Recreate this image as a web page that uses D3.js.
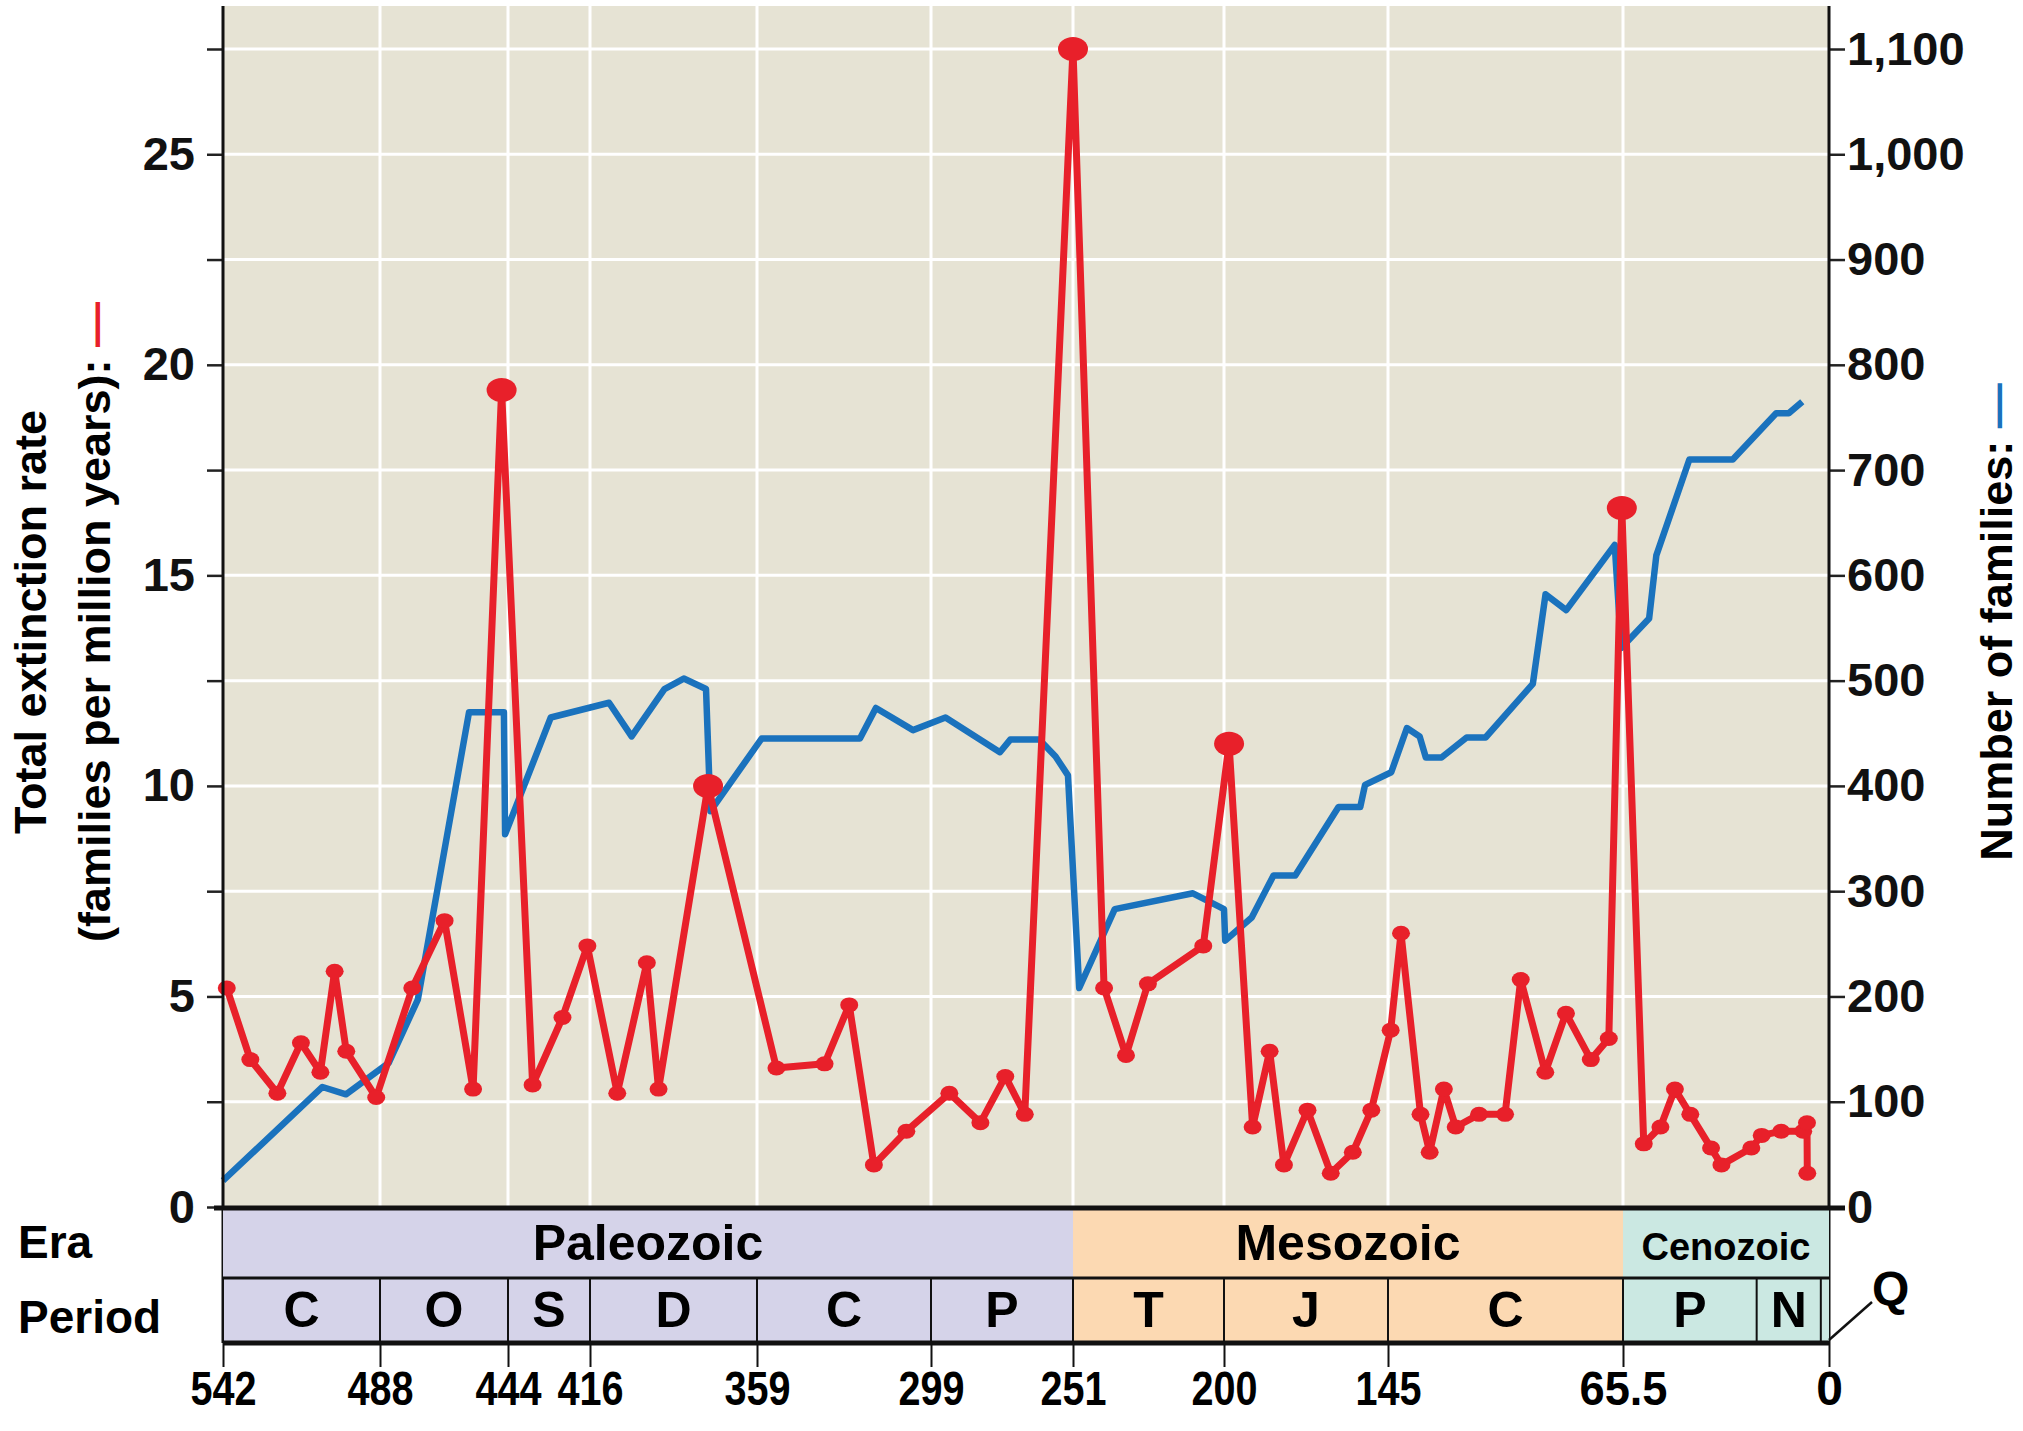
<!DOCTYPE html>
<html>
<head>
<meta charset="utf-8">
<script src="https://cdn.jsdelivr.net/npm/d3@7"></script>
<style>
  body { margin: 0; background: #fff; }
  text { font-family: "Liberation Sans", Arial, sans-serif; font-weight: bold; }
</style>
</head>
<body>
<svg id="chart" width="2023" height="1431"></svg>
<script>
// data: time in millions of years ago
var tickTimes = [542, 488, 444, 416, 359, 299, 251, 200, 145, 65.5, 0];
var tickLabels = ["542", "488", "444", "416", "359", "299", "251", "200", "145", "65.5", "0"];

var redTimes = [540.7, 532.6, 523.3, 515.2, 508.5, 503.6, 499.6, 489.3, 476.9, 465.8, 456.0, 446.2,
  435.6, 425.4, 416.9, 406.7, 396.6, 392.6, 375.7, 352.3, 335.7, 327.2, 318.7, 307.5, 292.8, 282.3,
  273.9, 267.3, 251, 240.5, 233.1, 225.7, 207.0, 198.3, 190.4, 184.7, 179.9, 172.0, 164.2, 156.8,
  150.6, 144.1, 140.6, 134.0, 130.9, 126.1, 122.1, 114.2, 105.4, 100.1, 91.8, 84.8, 76.4, 70.3, 65.9,
  58.9, 53.6, 49.0, 44.1, 37.5, 34.2, 24.7, 21.4, 15.2, 8.2, 7.0, 6.9];
var redRates = [5.2, 3.5, 2.7, 3.9, 3.2, 5.6, 3.7, 2.6, 5.2, 6.8, 2.8, 19.4,
  2.9, 4.5, 6.2, 2.7, 5.8, 2.8, 10.0, 3.3, 3.4, 4.8, 1.0, 1.8, 2.7, 2.0,
  3.1, 2.2, 27.5, 5.2, 3.6, 5.3, 6.2, 11.0, 1.9, 3.7, 1.0, 2.3, 0.8, 1.3,
  2.3, 4.2, 6.5, 2.2, 1.3, 2.8, 1.9, 2.2, 2.2, 5.4, 3.2, 4.6, 3.5, 4.0, 16.6,
  1.5, 1.9, 2.8, 2.2, 1.4, 1.0, 1.4, 1.7, 1.8, 1.8, 2.0, 0.8];
var massExtinctions = [446.2, 375.7, 251, 198.3, 65.9];

var blueTimes = [542, 507.8, 499.7, 485, 475, 457.4, 445.4, 445, 429.4, 409.5, 401.8, 390.6, 384.0,
  376.4, 374.9, 357.4, 323.5, 318.0, 305.2, 294.1, 275.7, 272.2, 262.4, 256.9, 252.7, 248.9, 236.9,
  210.5, 200, 199.6, 190.7, 183.4, 176.1, 161.6, 154.3, 152.7, 143.9, 138.6, 134.3, 132.2, 126.9,
  118.4, 112.0, 96.0, 91.7, 84.7, 68.3, 66.1, 57.2, 54.9, 44.4, 30.6, 16.8, 12.8, 8.5];
var blueFamilies = [25, 114, 107, 137, 197, 470, 470, 354, 465, 479, 447, 492, 502,
  492, 376, 445, 445, 474, 453, 465, 432, 444, 444, 428, 410, 208, 283,
  298, 283, 253, 275, 315, 315, 380, 380, 401, 413, 455, 447, 427, 427,
  446, 446, 497, 582, 567, 629, 531, 559, 619, 710, 710, 754, 754, 765];

var eras = [["Paleozoic", 542, 251, "#d5d3e9"], ["Mesozoic", 251, 65.5, "#fcd9b2"], ["Cenozoic", 65.5, 0, "#cbe8e2"]];
var periods = [["C", 542, 488], ["O", 488, 444], ["S", 444, 416], ["D", 416, 359], ["C", 359, 299], ["P", 299, 251],
  ["T", 251, 200], ["J", 200, 145], ["C", 145, 65.5], ["P", 65.5, 23], ["N", 23, 2.6], ["", 2.6, 0]];

var leftTicks = [0, 5, 10, 15, 20, 25];
var rightTicks = [0, 100, 200, 300, 400, 500, 600, 700, 800, 900, 1000, 1100];

var plotLeft = 223, plotRight = 1829, plotTop = 6, plotBottom = 1207;
var svg = d3.select("#chart");

// scales (time axis is piecewise so the hand-placed ticks line up)
var xScale = d3.scaleLinear().domain(tickTimes)
  .range([223, 380, 508, 590, 757, 931, 1073, 1224, 1388, 1623, 1829]);
var yScale = d3.scaleLinear().domain([0, 27.5]).range([plotBottom, 49]);
var yRight = d3.scaleLinear().domain([0, 1100]).range([plotBottom, 49]);

// plot background
svg.append("rect").attr("x", plotLeft).attr("y", plotTop)
  .attr("width", plotRight - plotLeft).attr("height", plotBottom - plotTop)
  .attr("fill", "#e6e3d4");

// grid
svg.append("g").selectAll("line").data(d3.range(2.5, 28.5, 2.5)).enter().append("line")
  .attr("x1", plotLeft).attr("x2", plotRight)
  .attr("y1", function(d){ return yScale(d); }).attr("y2", function(d){ return yScale(d); })
  .attr("stroke", "#fff").attr("stroke-width", 3);
svg.append("g").selectAll("line").data(tickTimes.slice(1, -1)).enter().append("line")
  .attr("x1", function(d){ return xScale(d); }).attr("x2", function(d){ return xScale(d); })
  .attr("y1", plotTop).attr("y2", plotBottom)
  .attr("stroke", "#fff").attr("stroke-width", 3);

// blue line
var blueData = blueTimes.map(function(t, i){ return [t, blueFamilies[i]]; });
svg.append("path").datum(blueData)
  .attr("d", d3.line().x(function(d){ return xScale(d[0]); }).y(function(d){ return yRight(d[1]); }))
  .attr("fill", "none").attr("stroke", "#1a72bd").attr("stroke-width", 6.5).attr("stroke-linejoin", "round");

// red line
var redData = redTimes.map(function(t, i){ return [t, redRates[i]]; });
svg.append("path").datum(redData)
  .attr("d", d3.line().x(function(d){ return xScale(d[0]); }).y(function(d){ return yScale(d[1]); }))
  .attr("fill", "none").attr("stroke", "#e8202a").attr("stroke-width", 7).attr("stroke-linejoin", "round");
svg.append("g").selectAll("ellipse").data(redData).enter().append("ellipse")
  .attr("cx", function(d){ return xScale(d[0]); })
  .attr("cy", function(d){ return yScale(d[1]); })
  .attr("rx", function(d){ return massExtinctions.indexOf(d[0]) >= 0 ? 15 : 9; })
  .attr("ry", function(d){ return massExtinctions.indexOf(d[0]) >= 0 ? 12 : 7.5; })
  .attr("fill", "#e8202a");

// axes
var yAxisL = d3.axisLeft(yScale).tickValues(d3.range(0, 28.5, 2.5)).tickSize(16)
  .tickFormat(function(d){ return leftTicks.indexOf(d) >= 0 ? d : ""; });
var gl = svg.append("g").attr("transform", "translate(" + [plotLeft, 0] + ")").call(yAxisL);
var yAxisR = d3.axisRight(yRight).tickValues(rightTicks).tickSize(16).tickFormat(d3.format(","));
var gr = svg.append("g").attr("transform", "translate(" + [plotRight, 0] + ")").call(yAxisR);
[gl, gr].forEach(function(g){
  g.select(".domain").attr("d", null);
  g.selectAll(".tick line").attr("stroke", "#222").attr("stroke-width", 2.5);
  g.selectAll("text").attr("font-family", "DejaVu Sans").attr("font-weight", "bold")
    .attr("font-size", 47).attr("fill", "#111");
});
gl.selectAll("text").attr("x", -28);
gr.selectAll("text").attr("x", 18);
svg.append("line").attr("x1", plotLeft).attr("x2", plotLeft).attr("y1", plotTop).attr("y2", 1343).attr("stroke", "#111").attr("stroke-width", 3);
svg.append("line").attr("x1", plotRight).attr("x2", plotRight).attr("y1", plotTop).attr("y2", 1343).attr("stroke", "#111").attr("stroke-width", 3);

// era / period bands
var band = svg.append("g");
band.selectAll("rect.era").data(eras).enter().append("rect")
  .attr("x", function(d){ return xScale(d[1]); }).attr("y", 1209)
  .attr("width", function(d){ return xScale(d[2]) - xScale(d[1]); }).attr("height", 134)
  .attr("fill", function(d){ return d[3]; });
band.selectAll("text.era").data(eras).enter().append("text")
  .attr("x", function(d){ return (xScale(d[1]) + xScale(d[2])) / 2; }).attr("y", 1260)
  .attr("text-anchor", "middle")
  .attr("font-size", function(d){ return d[0] == "Cenozoic" ? 38 : 50; })
  .text(function(d){ return d[0]; });
band.selectAll("line.per").data(periods).enter().append("line")
  .attr("x1", function(d){ return xScale(d[1]); }).attr("x2", function(d){ return xScale(d[1]); })
  .attr("y1", 1278).attr("y2", 1343).attr("stroke", "#111").attr("stroke-width", 2);
band.selectAll("text.per").data(periods).enter().append("text")
  .attr("x", function(d){ return (xScale(d[1]) + xScale(d[2])) / 2; }).attr("y", 1327)
  .attr("text-anchor", "middle").attr("font-size", 50)
  .text(function(d){ return d[0]; });
[1208, 1278, 1343].forEach(function(y, i){
  band.append("line").attr("x1", i == 0 ? 214 : plotLeft).attr("x2", i == 0 ? 1845 : plotRight)
    .attr("y1", y).attr("y2", y).attr("stroke", "#111").attr("stroke-width", i == 1 ? 3 : 5);
});
svg.append("text").attr("x", 18).attr("y", 1258).attr("font-size", 46).text("Era");
svg.append("text").attr("x", 18).attr("y", 1333).attr("font-size", 46).text("Period");
svg.append("line").attr("x1", 1829).attr("y1", 1340).attr("x2", 1872).attr("y2", 1302).attr("stroke", "#111").attr("stroke-width", 2.5);
svg.append("text").attr("x", 1872).attr("y", 1305).attr("font-size", 48).text("Q");

// bottom time axis
var xAxis = d3.axisBottom(xScale).tickValues(tickTimes).tickSize(24)
  .tickFormat(function(d, i){ return tickLabels[i]; });
var gx = svg.append("g").attr("transform", "translate(" + [0, 1343] + ")").call(xAxis);
gx.select(".domain").attr("d", null);
gx.selectAll(".tick line").attr("stroke", "#111").attr("stroke-width", 2);
gx.selectAll("text").attr("font-weight", "bold").attr("font-size", 48)
  .attr("textLength", function(d, i){ return tickLabels[i].length > 1 ? tickLabels[i].length * 22 : null; })
  .attr("lengthAdjust", "spacingAndGlyphs")
  .attr("fill", "#000").attr("y", 28).attr("dy", "0.71em");

// axis titles
var t1 = svg.append("text").attr("transform", "translate(46,622) rotate(-90)").attr("text-anchor", "middle")
  .attr("font-size", 45).text("Total extinction rate");
var t2 = svg.append("text").attr("transform", "translate(110,622) rotate(-90)").attr("text-anchor", "middle")
  .attr("font-size", 45).text("(families per million years):");
t2.append("tspan").attr("fill", "#e8202a").text(" \u2014");
var t3 = svg.append("text").attr("transform", "translate(2012,622) rotate(-90)").attr("text-anchor", "middle")
  .attr("font-size", 45).text("Number of families:");
t3.append("tspan").attr("fill", "#1a72bd").text(" \u2014");
</script>
</body>
</html>
